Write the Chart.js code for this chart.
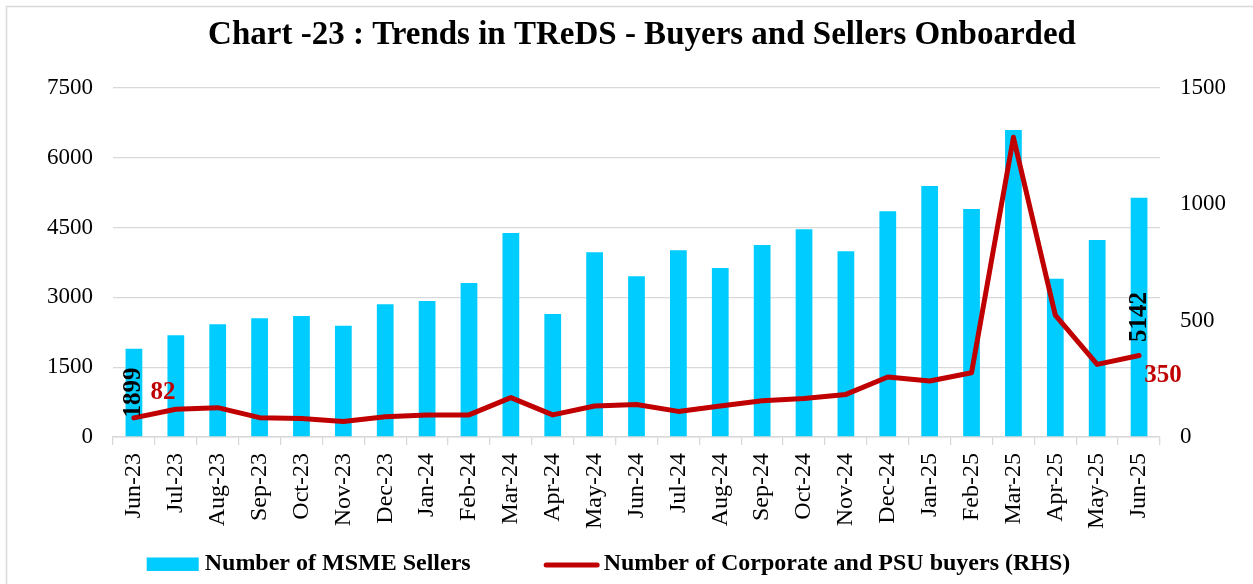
<!DOCTYPE html>
<html>
<head>
<meta charset="utf-8">
<script src="https://cdn.jsdelivr.net/npm/chart.js@4/dist/chart.umd.min.js"></script>
<style>
  html, body { margin: 0; padding: 0; background: #ffffff; }
  #wrap { width: 1253px; height: 584px; position: relative; }
</style>
</head>
<body>
<div id="wrap"><canvas id="c" width="1253" height="584"></canvas></div>
<script>
const months = ["Jun-23","Jul-23","Aug-23","Sep-23","Oct-23","Nov-23","Dec-23","Jan-24","Feb-24","Mar-24","Apr-24","May-24","Jun-24","Jul-24","Aug-24","Sep-24","Oct-24","Nov-24","Dec-24","Jan-25","Feb-25","Mar-25","Apr-25","May-25","Jun-25"];
const msmeSellers = [1899,2186,2422,2551,2600,2392,2852,2923,3309,4384,2643,3969,3453,4012,3632,4126,4463,3990,4850,5394,4900,6597,3402,4233,5142];
const corporateBuyers = [82,119,126,83,79,67,87,95,95,169,95,133,140,110,133,156,165,183,258,241,276,1288,524,312,350];
const leftTicks = [0,1500,3000,4500,6000,7500];
const rightTicks = [0,500,1000,1500];
const titleText = "Chart -23 : Trends in TReDS - Buyers and Sellers Onboarded";
const sellersLabel = "Number of MSME Sellers";
const buyersLabel = "Number of Corporate and PSU buyers (RHS)";

const SERIF = "'Liberation Serif', 'DejaVu Serif', serif";
const CYAN = "#00CCFF";
const RED = "#C00000";
const GRID = "#d9d9d9";

const labelledIdx = [0, months.length - 1];

const frame = {
  id: 'frame',
  beforeDraw(chart) {
    const ctx = chart.ctx;
    ctx.save();
    ctx.strokeStyle = GRID;
    ctx.lineWidth = 1.5;
    ctx.beginPath();
    ctx.moveTo(6.5, chart.height + 5);
    ctx.lineTo(6.5, 6.5);
    ctx.lineTo(chart.width + 5, 6.5);
    ctx.stroke();
    ctx.restore();
  }
};

const dataLabels = {
  id: 'dataLabels',
  afterDatasetsDraw(chart) {
    const ctx = chart.ctx;
    ctx.save();
    const barMeta = chart.getDatasetMeta(0);
    const lineMeta = chart.getDatasetMeta(1);
    labelledIdx.forEach(i => {
      const bar = barMeta.data[i];
      const v = chart.data.datasets[0].data[i];
      ctx.save();
      ctx.translate(bar.x, (bar.y + bar.base) / 2);
      ctx.rotate(-Math.PI / 2);
      ctx.font = "bold 25px " + SERIF;
      ctx.fillStyle = "#000000";
      ctx.textAlign = "center";
      ctx.textBaseline = "middle";
      ctx.fillText(String(v), 0, 0);
      ctx.restore();
    });
    labelledIdx.forEach((i, k) => {
      const pt = lineMeta.data[i];
      const v = chart.data.datasets[1].data[i];
      ctx.font = "bold 25px " + SERIF;
      ctx.fillStyle = RED;
      ctx.textAlign = "center";
      ctx.textBaseline = "middle";
      const dx = k === 0 ? 29 : 24;
      const dy = k === 0 ? -25 : 20;
      ctx.fillText(String(v), pt.x + dx, pt.y + dy);
    });
    ctx.restore();
  }
};

const customLegend = {
  id: 'customLegend',
  afterDraw(chart) {
    const ctx = chart.ctx;
    ctx.save();
    ctx.font = "bold 24px " + SERIF;
    const w1 = ctx.measureText(sellersLabel).width;
    const w2 = ctx.measureText(buyersLabel).width;
    const sw1 = 52, g1 = 6, gap = 73, sw2 = 56, g2 = 4;
    const total = sw1 + g1 + w1 + gap + sw2 + g2 + w2;
    let x = chart.width / 2 - 18 - total / 2;
    const y = 564;
    ctx.fillStyle = CYAN;
    ctx.fillRect(x, 557.5, sw1, 13.5);
    x += sw1 + g1;
    ctx.fillStyle = '#000000';
    ctx.textAlign = 'left';
    ctx.textBaseline = 'middle';
    ctx.fillText(sellersLabel, x, y);
    x += w1 + gap;
    ctx.strokeStyle = RED;
    ctx.lineWidth = 5;
    ctx.lineCap = 'round';
    ctx.beginPath();
    ctx.moveTo(x + 2.5, y + 1);
    ctx.lineTo(x + sw2 - 2.5, y + 1);
    ctx.stroke();
    x += sw2 + g2;
    ctx.fillText(buyersLabel, x, y);
    ctx.restore();
  }
};

new Chart(document.getElementById('c'), {
  type: 'bar',
  data: {
    labels: months,
    datasets: [
      {
        type: 'bar',
        label: sellersLabel,
        data: msmeSellers,
        backgroundColor: CYAN,
        borderWidth: 0,
        yAxisID: 'y',
        categoryPercentage: 1.0,
        barPercentage: 0.4,
        order: 2
      },
      {
        type: 'line',
        label: buyersLabel,
        data: corporateBuyers,
        borderColor: RED,
        backgroundColor: RED,
        borderWidth: 5,
        borderJoinStyle: 'round',
        borderCapStyle: 'round',
        pointRadius: 0,
        tension: 0,
        yAxisID: 'y1',
        order: 1
      }
    ]
  },
  options: {
    responsive: false,
    animation: false,
    events: [],
    layout: { padding: { left: 31, right: 0, top: 0, bottom: 47 } },
    plugins: {
      title: {
        display: true,
        text: titleText,
        color: '#000000',
        font: { family: SERIF, size: 33, weight: 'bold' },
        padding: { top: 16, bottom: 32.4 }
      },
      legend: { display: false },
      tooltip: { enabled: false }
    },
    scales: {
      x: {
        offset: true,
        grid: { display: true, drawOnChartArea: false, drawTicks: true, tickLength: 8, color: GRID, lineWidth: 1.3, offset: true },
        border: { display: true, color: GRID, width: 1.5 },
        ticks: {
          color: '#000000',
          font: { family: SERIF, size: 24 },
          maxRotation: 90, minRotation: 90,
          autoSkip: false,
          padding: 8
        },
        afterFit(scale) { scale.height = 100; }
      },
      y: {
        position: 'left',
        min: 0, max: 7500,
        afterBuildTicks(scale) { scale.ticks = leftTicks.map(v => ({ value: v })); },
        grid: { color: GRID, lineWidth: 1.3, drawTicks: false },
        border: { display: false },
        ticks: {
          color: '#000000',
          font: { family: SERIF, size: 23 },
          padding: 20,
          callback: v => String(v)
        },
        afterFit(scale) { scale.width = 82; }
      },
      y1: {
        position: 'right',
        min: 0, max: 1500,
        afterBuildTicks(scale) { scale.ticks = rightTicks.map(v => ({ value: v })); },
        grid: { drawOnChartArea: false, drawTicks: false },
        border: { display: false },
        ticks: {
          color: '#000000',
          font: { family: SERIF, size: 23 },
          padding: 20,
          callback: v => String(v)
        },
        afterFit(scale) { scale.width = 93; }
      }
    }
  },
  plugins: [frame, dataLabels, customLegend]
});
</script>
</body>
</html>
